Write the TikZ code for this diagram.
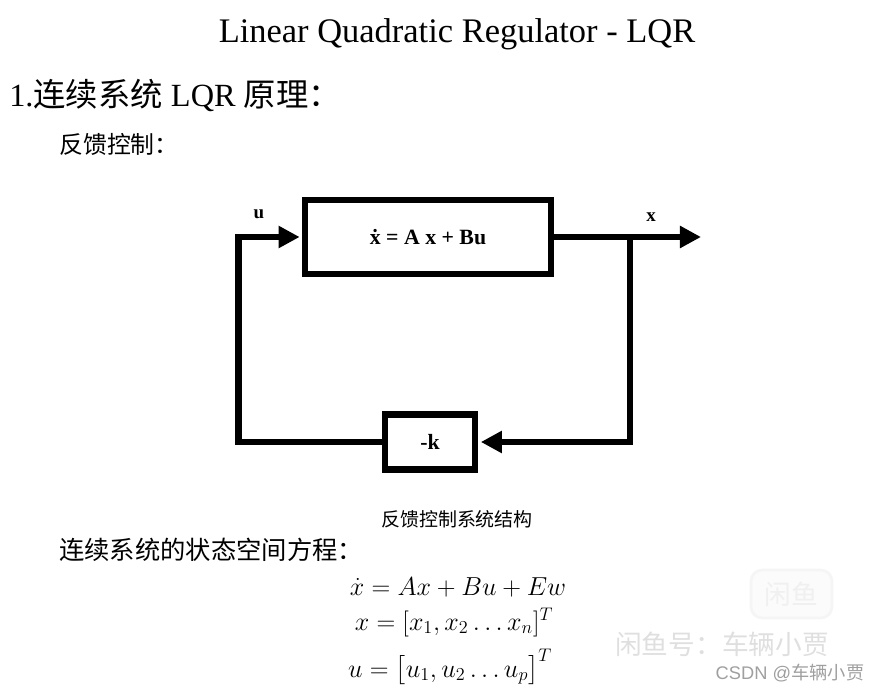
\RequirePackage{fix-cm}
\documentclass[tikz,border=0pt]{standalone}
\usepackage{amsmath}
\usepackage{fontspec}
\setmainfont{Liberation Serif}
\newfontfamily\cjk{Noto Sans CJK SC}
\newfontfamily\wmfont{Liberation Sans}
\usetikzlibrary{arrows.meta, positioning}

\begin{document}
\begin{tikzpicture}[x=0.025cm, y=-0.025cm,
    >={Triangle[length=15pt, width=15pt]},
    wire/.style={line width=4.3pt, line join=miter},
    blockbox/.style={draw, line width=4.3pt, inner sep=0pt,
        font=\fontsize{15.5}{18}\selectfont\bfseries},
    sig/.style={font=\fontsize{13.5}{16}\selectfont\bfseries},
    cjktext/.style={anchor=base west, inner sep=0pt},
    eqn/.style={anchor=base, inner sep=0pt, font=\fontsize{18.5}{22}\selectfont}]
    \useasboundingbox (0,0) rectangle (877,695);

    % titles
    \node[anchor=base] (title) at (457,43) {\fontsize{24.5}{28}\selectfont Linear Quadratic Regulator - LQR};
    \node[cjktext] (head) at (9,107) {\fontsize{23}{28}\selectfont 1.{\cjk 连续系统} LQR {\cjk 原理：}};
    \node[cjktext] (fbhead) at (59,154) {\cjk\fontsize{17}{20}\selectfont 反馈控制：};

    % block diagram
    \node[blockbox, minimum width=6.125cm, minimum height=1.85cm] (sys) at (428,237) {\.{x} = A x + Bu};
    \node[blockbox, minimum width=2.25cm, minimum height=1.375cm] (fb) at (430,442) {-k};
    \coordinate (cin) at (238.5,237);
    \coordinate (branch) at (630,237);
    \coordinate (xout) at (701,237);

    \draw[wire, ->] (sys.east) -- (xout);
    \draw[wire, ->, shorten >=2pt] (branch) |- (fb.east);
    \draw[wire, ->, shorten >=2pt] (fb.west) -| (cin) -- (sys.west);

    \node[sig] (ulab) at (259,214) {u};
    \node[sig] (xlab) at (651,217) {x};

    \node (caption) at (457,519) {\cjk\fontsize{13.5}{16}\selectfont 反馈控制系统结构};

    % state space equations
    \node[cjktext] (sshead) at (59,560) {\cjk\fontsize{18}{22}\selectfont 连续系统的状态空间方程：};
    \node[eqn] (eq1) at (458,596) {$\dot{x} = Ax + Bu + Ew$};
    \node[eqn] (eq2) at (454,630) {$x = [x_1, x_2 \ldots x_n]^T$};
    \node[eqn] (eq3) at (450,677) {$u = \big[u_1, u_2 \ldots u_p\big]^T$};

    % watermark
    \draw[gray!8, fill=gray!3, line width=2pt, rounded corners=8pt] (751,570) rectangle (832,618);
    \node[text=gray!12] (wmicon) at (791,594) {\cjk\fontsize{19}{22}\selectfont 闲鱼};
    \node[text=gray!25] (wm1) at (722,644) {\cjk\fontsize{19}{22}\selectfont 闲鱼号：车辆小贾};
    \node[text=gray!75] (wm2) at (790,673) {\fontsize{13}{15}\selectfont\wmfont CSDN @{\cjk 车辆小贾}};
\end{tikzpicture}
\end{document}
